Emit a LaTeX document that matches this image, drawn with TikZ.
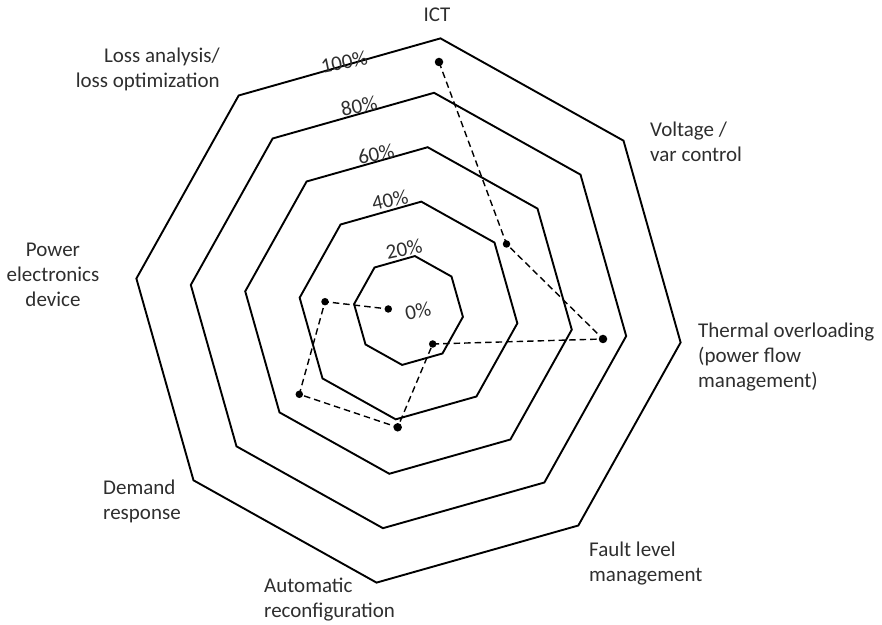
\documentclass[tikz,border=0pt]{standalone}
\usepackage{fontspec}
\setmainfont{Carlito}
\usetikzlibrary{calc}
% stacked multi-line labels whose baseline is that of the first line
\newcommand\leftlines[1]{\vtop{\halign{##\hfil\cr#1\crcr}}}
\newcommand\rightlines[1]{\vtop{\halign{\hfil##\cr#1\crcr}}}
\newcommand\centerlines[1]{\vtop{\halign{\hfil##\hfil\cr#1\crcr}}}
\begin{document}
\begin{tikzpicture}[x=1bp,y=1bp,
  ring/.style={line width=1.9bp, line join=miter},
  series/.style={dash pattern=on 6.5bp off 4bp, line width=1.4bp},
  dot/.style={circle, fill=black, inner sep=0pt, minimum size=7.5bp},
  lbl/.style={font=\fontsize{21bp}{25bp}\selectfont, text=black!82, inner sep=0pt},
  pct/.style={lbl, rotate=12}]
\useasboundingbox (0,0) rectangle (882,625);
\coordinate (O) at (408.5,314.5);

% concentric octagons, 20 % steps
\foreach \r in {54.8,109.6,164.4,219.2,274}{
  \draw[ring] ($(O)+(83.3:\r)$) \foreach \k in {1,...,7}{ -- ($(O)+(83.3+45*\k:\r)$) } -- cycle;
}

% scale labels
\node[pct] (p100) at (344,563) {100\%};
\node[pct] (p80)  at (359,519) {80\%};
\node[pct] (p60)  at (376,471) {60\%};
\node[pct] (p40)  at (390,425) {40\%};
\node[pct] (p20)  at (404,376) {20\%};
\node[pct] (p0)   at (418,314) {0\%};

% data points
\node[dot, minimum size=8.5bp] (d1) at (439,563) {};
\node[dot] (d2) at (506.5,381) {};
\node[dot, minimum size=8.5bp] (d3) at (603,286) {};
\node[dot] (d4) at (432.7,281) {};
\node[dot, minimum size=8.5bp] (d5) at (397.7,197.7) {};
\node[dot] (d6) at (299.3,230.7) {};
\node[dot] (d7) at (325,323.3) {};
\node[dot] (d8) at (388.3,316) {};
\draw[series] (d1.center) -- (d2.center) -- (d3.center) -- (d4.center)
  -- (d5.center) -- (d6.center) -- (d7.center) -- (d8.center);

% axis labels
\node[lbl, anchor=base] (ict) at (437,603) {ICT};
\node[lbl, anchor=base east] (loss) at (220,562) {\rightlines{Loss analysis/\cr loss optimization}};
\node[lbl, anchor=base west] (volt) at (650,488) {\leftlines{Voltage /\cr var control}};
\node[lbl, anchor=base west] (therm) at (698,287) {\leftlines{Thermal overloading\cr (power flow\cr management)}};
\node[lbl, anchor=base west] (fault) at (589,68) {\leftlines{Fault level\cr management}};
\node[lbl, anchor=base west] (auto) at (264,32) {\leftlines{Automatic\cr reconfiguration}};
\node[lbl, anchor=base west] (dem) at (103,130) {\leftlines{Demand\cr response}};
\node[lbl, anchor=base] (pe) at (53,368) {\centerlines{Power\cr electronics\cr device}};
\end{tikzpicture}
\end{document}
